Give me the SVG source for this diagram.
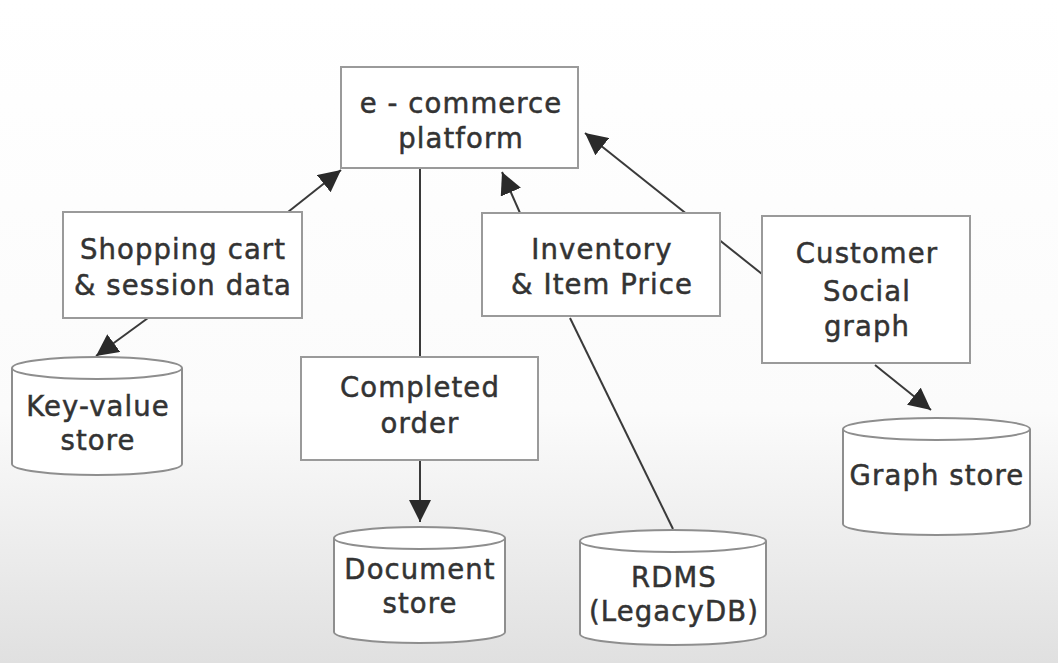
<svg xmlns="http://www.w3.org/2000/svg" width="1058" height="663" viewBox="0 0 1058 663">
<defs>
<linearGradient id="bg" x1="0" y1="0" x2="0" y2="1">
<stop offset="0" stop-color="#ffffff"/>
<stop offset="0.62" stop-color="#fbfbfb"/>
<stop offset="1" stop-color="#e0e0e0"/>
</linearGradient>
<marker id="ah" markerUnits="userSpaceOnUse" markerWidth="24" markerHeight="22" refX="22" refY="11" orient="auto">
<path d="M0,0 L22,11 L0,22 Z" fill="#2a2a2a"/>
</marker>
<style>
.box{fill:#ffffff;stroke:#9a9a9a;stroke-width:2}
.cyl{fill:#ffffff;stroke:#8e8e8e;stroke-width:2}
.t{font-family:"DejaVu Sans","Liberation Sans",sans-serif;font-size:27.5px;letter-spacing:1.1px;fill:#333333;stroke:#333333;stroke-width:0.5;text-anchor:middle}
.c{stroke:#3a3a3a;stroke-width:2;fill:none}
</style>
</defs>
<rect width="1058" height="663" fill="url(#bg)"/>
<g id="connectors">
<line class="c" x1="762" y1="274" x2="585" y2="133" marker-end="url(#ah)"/>
<line class="c" x1="288" y1="212" x2="341" y2="170" marker-end="url(#ah)"/>
<line class="c" x1="148" y1="318" x2="96" y2="356" marker-end="url(#ah)"/>
<line class="c" x1="420" y1="168" x2="420" y2="357"/>
<line class="c" x1="420" y1="460" x2="420" y2="522" marker-end="url(#ah)"/>
<line class="c" x1="520" y1="213" x2="502" y2="172" marker-end="url(#ah)"/>
<line class="c" x1="570" y1="318" x2="673" y2="529"/>
<line class="c" x1="875" y1="365" x2="931" y2="410" marker-end="url(#ah)"/>
</g>
<g id="ecommerce">
<rect class="box" x="341" y="67" width="237" height="101"/>
<text class="t" x="461" y="113">e - commerce</text>
<text class="t" x="461" y="148">platform</text>
</g>
<g id="shopping">
<rect class="box" x="63" y="212" width="239" height="106"/>
<text class="t" x="183" y="259">Shopping cart</text>
<text class="t" x="183" y="295">&amp; session data</text>
</g>
<g id="inventory">
<rect class="box" x="482" y="213" width="238" height="103"/>
<text class="t" x="602" y="259">Inventory</text>
<text class="t" x="602" y="294">&amp; Item Price</text>
</g>
<g id="customer">
<rect class="box" x="762" y="216" width="208" height="147"/>
<text class="t" x="867" y="263">Customer</text>
<text class="t" x="867" y="301">Social</text>
<text class="t" x="867" y="336">graph</text>
</g>
<g id="completed">
<rect class="box" x="301" y="357" width="237" height="103"/>
<text class="t" x="420" y="397">Completed</text>
<text class="t" x="420" y="433">order</text>
</g>
<g id="keyvalue">
<path class="cyl" d="M12,368 L12,464 A85,11 0 0 0 182,464 L182,368 A85,11 0 0 0 12,368 Z"/>
<path class="cyl" d="M12,368 A85,11 0 0 0 182,368"/>
<text class="t" x="98" y="416">Key-value</text>
<text class="t" x="98" y="450">store</text>
</g>
<g id="document">
<path class="cyl" d="M334,538 L334,632 A85.5,11 0 0 0 505,632 L505,538 A85.5,11 0 0 0 334,538 Z"/>
<path class="cyl" d="M334,538 A85.5,11 0 0 0 505,538"/>
<text class="t" x="420" y="579">Document</text>
<text class="t" x="420" y="613">store</text>
</g>
<g id="rdms">
<path class="cyl" d="M580,541 L580,634 A93,11 0 0 0 766,634 L766,541 A93,11 0 0 0 580,541 Z"/>
<path class="cyl" d="M580,541 A93,11 0 0 0 766,541"/>
<text class="t" x="674" y="587">RDMS</text>
<text class="t" x="674" y="621">(LegacyDB)</text>
</g>
<g id="graphstore">
<path class="cyl" d="M843,429 L843,524 A93.5,11 0 0 0 1030,524 L1030,429 A93.5,11 0 0 0 843,429 Z"/>
<path class="cyl" d="M843,429 A93.5,11 0 0 0 1030,429"/>
<text class="t" x="937" y="485">Graph store</text>
</g>
</svg>
